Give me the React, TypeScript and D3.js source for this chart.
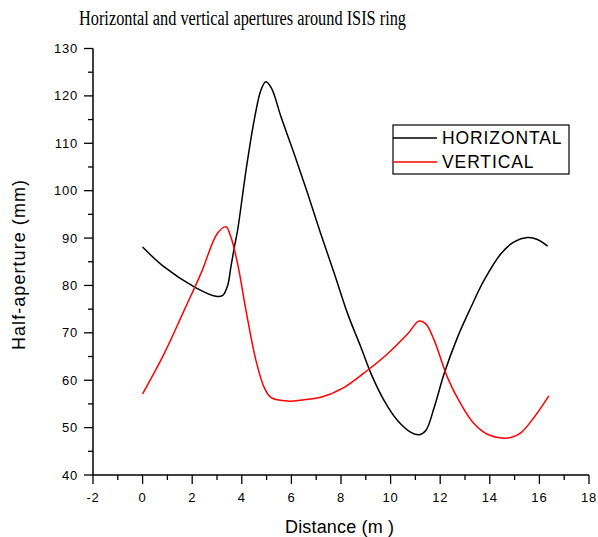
import React from "react";
import * as d3 from "d3";

const title = "Horizontal and vertical apertures around ISIS ring";
const xLabel = "Distance (m )";
const yLabel = "Half-aperture (mm)";
const xTicks = [-2, 0, 2, 4, 6, 8, 10, 12, 14, 16, 18];
const yTicks = [40, 50, 60, 70, 80, 90, 100, 110, 120, 130];

const horizX = [0, 0.87, 2.08, 2.96, 3.23, 3.43, 3.56, 3.7, 3.83, 4.17, 4.5, 4.77, 4.97, 5.2, 5.58, 6.11, 6.65, 7.19, 7.73, 8.27, 8.8, 9.21, 9.74, 10.28, 10.82, 11.15, 11.42, 11.76, 12.16, 12.7, 13.24, 13.77, 14.45, 14.98, 15.52, 15.92, 16.33];
const horizY = [88.1, 83.9, 79.7, 77.7, 77.9, 80.0, 83.9, 88.1, 91.6, 104.3, 114.9, 121.2, 123.0, 121.6, 115.6, 107.8, 99.5, 90.8, 82.5, 74.0, 67.0, 61.4, 55.7, 51.5, 49.0, 48.5, 49.4, 54.3, 61.4, 69.1, 75.4, 81.1, 86.7, 89.2, 90.1, 89.7, 88.3];

const vertX = [0, 0.87, 1.68, 2.35, 3.02, 3.36, 3.56, 3.83, 4.17, 4.57, 4.9, 5.17, 5.85, 6.52, 7.19, 8.13, 9.07, 9.88, 10.69, 11.15, 11.42, 11.76, 12.3, 12.83, 13.37, 13.9, 14.5, 14.85, 15.25, 15.79, 16.38];
const vertY = [57.1, 65.6, 74.8, 82.5, 91.0, 92.4, 90.2, 84.6, 74.7, 64.2, 58.5, 56.4, 55.6, 55.9, 56.4, 58.5, 62.1, 65.6, 69.8, 72.5, 71.9, 68.4, 60.5, 55.0, 50.8, 48.6, 47.8, 47.9, 48.9, 52.2, 56.7];

const seriesNames = ["HORIZONTAL", "VERTICAL"];
const seriesColors = ["#000000", "#ff0000"];

export default function App() {
  const W = 598, H = 537;
  const x = d3.scaleLinear().domain([-2, 18]).range([93, 589]);
  const y = d3.scaleLinear().domain([40, 130]).range([475, 48.5]);
  const line = d3
    .line<[number, number]>()
    .x((d) => x(d[0]))
    .y((d) => y(d[1]))
    .curve(d3.curveCatmullRom.alpha(0.5));
  const hData = horizX.map((v, i) => [v, horizY[i]] as [number, number]);
  const vData = vertX.map((v, i) => [v, vertY[i]] as [number, number]);
  const xMinor = d3.range(-2, 18.01, 1);
  const yMinor = d3.range(40, 130.01, 5);
  const sans = "'Liberation Sans', Arial, sans-serif";
  return (
    <div style={{ position: "absolute", left: 0, top: 0 }}>
      <svg width={W} height={H} style={{ display: "block", background: "#fff" }}>
        <text x={79} y={25} fontFamily="'Liberation Serif', 'Times New Roman', serif" fontSize={20.5} textLength={327} lengthAdjust="spacingAndGlyphs" fill="#000">
          {title}
        </text>
        {/* y axis */}
        <line x1={x(-2)} x2={x(-2)} y1={y(130)} y2={y(40)} stroke="#000" strokeWidth={1.5} />
        {yMinor.map((v) => (
          <line key={"ym" + v} x1={x(-2) - (v % 10 === 0 ? 9 : 5)} x2={x(-2)} y1={y(v)} y2={y(v)} stroke="#000" strokeWidth={1.3} />
        ))}
        {yTicks.map((v) => (
          <text key={"yt" + v} x={78} y={y(v) + 4.5} textAnchor="end" fontFamily={sans} fontSize={13} letterSpacing={0.8} fill="#000">
            {v}
          </text>
        ))}
        {/* x axis */}
        <line x1={x(-2)} x2={x(18)} y1={y(40)} y2={y(40)} stroke="#000" strokeWidth={1.5} />
        {xMinor.map((v) => (
          <line key={"xm" + v} x1={x(v)} x2={x(v)} y1={y(40)} y2={y(40) + (v % 2 === 0 ? 9 : 5)} stroke="#000" strokeWidth={1.3} />
        ))}
        {xTicks.map((v) => (
          <text key={"xt" + v} x={x(v)} y={502} textAnchor="middle" fontFamily={sans} fontSize={13} letterSpacing={0.8} fill="#000">
            {v}
          </text>
        ))}
        <text x={285} y={533} fontFamily={sans} fontSize={18} textLength={109} fill="#000">
          {xLabel}
        </text>
        <text transform="translate(25,350) rotate(-90)" fontFamily={sans} fontSize={18} textLength={170} fill="#000">
          {yLabel}
        </text>
        {/* curves */}
        <path d={line(hData) || ""} fill="none" stroke={seriesColors[0]} strokeWidth={1.5} />
        <path d={line(vData) || ""} fill="none" stroke={seriesColors[1]} strokeWidth={1.5} />
        {/* legend */}
        <rect x={393} y={125} width={176} height={49} fill="none" stroke="#000" strokeWidth={1.2} />
        {seriesNames.map((n, i) => (
          <g key={n}>
            <line x1={393} x2={437} y1={138 + i * 24} y2={138 + i * 24} stroke={seriesColors[i]} strokeWidth={1.5} />
            <text x={442} y={143.5 + i * 24.5} fontFamily={sans} fontSize={17.5} letterSpacing={0.9} fill="#000">
              {n}
            </text>
          </g>
        ))}
      </svg>
    </div>
  );
}
